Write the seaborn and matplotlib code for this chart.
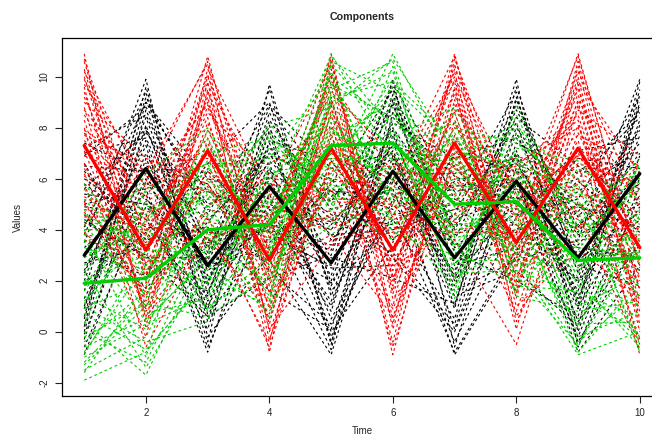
import matplotlib
matplotlib.use("Agg")
import matplotlib.pyplot as plt
import pandas as pd
import seaborn as sns

time = list(range(1, 11))

black_lines = [
    [0.2, 9.6, 1.5, 7.8, -0.5, 9.1, 4.0, 8.2, 1.1, 9.8],
    [5.8, 4.1, 3.9, 3.5, 5.6, 4.8, -0.8, 3.2, 4.7, 7.9],
    [2.4, 7.3, -0.4, 9.7, 1.9, 6.0, 2.2, 9.9, -0.6, 5.4],
    [6.9, 8.8, 5.5, 4.6, 0.8, 8.4, 6.1, 5.0, 3.3, 2.9],
    [-0.9, 5.2, 2.8, 6.7, 4.4, 3.1, 0.3, 7.4, 6.2, 8.6],
    [4.3, 3.0, 0.6, 2.1, 3.0, 9.8, 5.2, 4.2, 2.0, 4.4],
    [1.6, 9.2, 4.6, 8.9, 6.4, 7.0, 1.4, 2.4, 0.2, 9.3],
    [7.4, 6.2, 1.0, 5.4, -0.2, 5.2, 3.6, 8.7, 4.1, 6.8],
    [3.1, 2.2, 6.3, 3.9, 2.5, 2.6, 7.0, 6.3, -0.4, 3.6],
    [0.9, 7.9, 3.3, 7.2, 5.1, 8.9, 2.7, 3.9, 5.5, 7.1],
    [5.0, 5.6, -0.6, 4.8, 1.2, 6.6, 0.9, 9.6, 2.6, 1.8],
    [2.0, 8.4, 2.0, 6.1, 3.8, 4.0, 4.8, 5.6, 1.6, 8.3],
    [6.3, 3.6, 4.1, 1.6, 0.1, 7.7, 2.1, 7.0, 3.8, 5.0],
    [-0.3, 6.8, 1.8, 8.3, 4.8, 5.6, -0.4, 4.5, 6.8, 6.4],
    [3.8, 9.0, 5.0, 5.9, 2.2, 9.3, 3.1, 2.0, 0.6, 9.0],
    [4.9, 4.6, 0.1, 7.5, 6.7, 3.6, 5.9, 6.6, 3.0, 3.2],
    [1.3, 6.0, 3.6, 2.8, -0.9, 6.9, 1.8, 8.0, 4.5, 7.4],
    [7.0, 7.6, 2.4, 4.2, 3.4, 8.0, 4.4, 5.3, -0.2, 5.7],
    [2.7, 3.3, 6.6, 9.0, 1.6, 4.4, 0.5, 9.2, 2.3, 8.9],
    [0.5, 8.1, 1.2, 5.0, 4.0, 7.3, 6.5, 3.5, 5.0, 2.4],
    [5.4, 5.0, 3.0, 6.4, 0.5, 5.0, 2.4, 6.9, 1.4, 6.0],
    [3.5, 9.9, -0.2, 3.0, 5.8, 9.5, 3.8, 4.8, 7.1, 7.6],
    [4.6, 1.7, 4.3, 7.0, 2.9, 2.1, 1.1, 7.8, 2.8, 4.7],
    [1.0, 7.0, 2.2, 4.4, -0.7, 8.6, 5.5, 5.9, 0.9, 9.5],
    [6.0, 4.4, 0.9, 8.6, 3.6, 6.3, -0.9, 3.0, 4.2, 5.8],
    [0.0, 8.7, 3.1, 9.5, 1.4, 7.5, 0.1, 6.4, 1.9, 8.1],
    [6.6, 2.6, 1.6, 5.6, 4.3, 9.6, 3.3, 4.0, 5.9, 3.9],
    [2.9, 6.5, 5.8, 2.4, 0.3, 4.6, 5.0, 9.4, 0.0, 6.9],
    [4.1, 9.4, 0.4, 7.9, 5.3, 6.8, 1.6, 2.8, 3.6, 9.9],
    [-0.6, 4.9, 2.6, 3.3, 2.0, 8.2, 6.8, 7.6, 4.9, 4.1],
    [5.6, 7.8, 4.9, 6.9, 6.0, 2.9, 0.0, 5.8, 1.3, 7.7],
    [1.9, 3.9, 1.4, 8.1, -0.4, 5.9, 4.1, 8.4, 6.5, 5.1],
    [7.2, 8.5, 3.5, 4.0, 3.2, 9.0, 2.6, 3.3, 2.1, 8.8],
    [3.3, 5.4, -0.8, 6.3, 4.6, 4.2, 5.7, 6.0, -0.8, 2.6],
    [0.6, 9.0, 6.0, 5.2, 1.0, 7.9, 1.0, 9.1, 3.4, 6.3],
    [4.4, 2.9, 2.9, 8.8, 5.5, 5.4, 3.4, 4.6, 5.2, 9.2],
    [2.3, 7.5, 0.7, 3.7, 2.6, 9.9, -0.6, 7.1, 1.0, 4.9],
    [6.5, 6.3, 4.4, 6.6, 0.0, 3.4, 4.6, 8.9, 3.9, 7.0],
    [-0.1, 5.9, 2.5, 4.9, 4.2, 7.1, 2.0, 5.2, 6.0, 8.4],
    [5.1, 8.0, 1.9, 7.4, 1.8, 6.2, 6.2, 6.8, 0.4, 3.4],
]

red_lines = [
    [10.9, 0.2, 9.8, -0.8, 10.6, 2.0, 10.9, 1.3, 10.4, 0.5],
    [6.1, 4.7, 5.2, 4.9, 4.3, 6.6, 5.6, 5.1, 6.9, 4.4],
    [9.4, 2.1, 10.8, 1.8, 8.9, -0.9, 8.3, 3.4, 9.8, 6.2],
    [4.2, 6.4, 6.3, 0.5, 7.6, 4.5, 10.2, 0.4, 5.1, 1.9],
    [8.0, -0.6, 3.9, 3.6, 10.0, 1.3, 4.4, 6.3, 8.3, -0.9],
    [5.3, 3.8, 8.6, 6.1, 5.1, 5.0, 9.3, 2.6, 3.6, 3.8],
    [10.2, 5.6, 7.2, 2.5, 3.8, 0.6, 6.8, 4.8, 10.8, 2.6],
    [7.1, 1.2, 4.8, 4.3, 9.4, 6.9, 3.6, -0.5, 7.2, 5.3],
    [3.6, 2.9, 9.2, -0.3, 6.5, 3.2, 8.7, 5.6, 4.4, 0.9],
    [9.0, 6.8, 5.8, 2.0, 8.5, 1.8, 10.5, 2.0, 9.1, 4.9],
    [6.6, 0.9, 10.3, 5.4, 4.7, 4.4, 5.1, 6.9, 6.0, 2.2],
    [4.8, 4.2, 3.4, 1.2, 10.9, 0.1, 7.7, 3.0, 8.7, 6.9],
    [10.6, 2.6, 7.9, 3.2, 6.0, 5.6, 9.8, 1.0, 3.2, 1.4],
    [8.5, 5.1, 6.6, 6.6, 8.0, 2.6, 4.0, 4.2, 9.5, 3.1],
    [5.8, -0.2, 9.5, 0.1, 3.4, 3.9, 8.0, 6.2, 5.6, 4.0],
    [7.8, 3.4, 4.3, 3.9, 9.8, 6.2, 6.2, 2.5, 10.0, 0.0],
    [3.9, 1.7, 8.2, 2.2, 5.6, 1.0, 10.7, 4.4, 6.6, 5.8],
    [9.7, 6.1, 5.5, 5.0, 7.0, 4.9, 5.4, 0.8, 7.8, 2.8],
    [6.4, 3.1, 10.1, 1.5, 9.0, 2.4, 8.9, 5.3, 4.0, 6.6],
    [8.8, 0.6, 3.6, 4.6, 4.0, 5.3, 6.5, 3.8, 9.0, 1.2],
    [4.5, 4.5, 7.6, 0.9, 8.2, -0.4, 9.1, 2.2, 6.3, 4.6],
    [10.0, 2.3, 6.0, 5.8, 5.5, 4.0, 4.8, 6.6, 8.0, 3.5],
    [7.5, 5.3, 9.0, 2.9, 10.3, 1.5, 7.2, 1.6, 10.6, 1.6],
    [5.1, 1.5, 4.5, -0.6, 6.8, 6.0, 10.0, 4.9, 5.3, 5.5],
    [9.2, 3.9, 8.8, 3.3, 4.6, 2.8, 6.0, 3.2, 7.5, -0.5],
    [10.7, 3.6, 8.4, 0.3, 9.2, 0.3, 9.5, 0.1, 8.9, 0.8],
    [6.9, 5.9, 10.6, 3.0, 7.4, 4.6, 4.3, 3.6, 10.2, 5.0],
    [8.3, 1.0, 5.0, 5.5, 10.5, 2.1, 7.5, 5.9, 4.7, -0.7],
    [4.0, 4.0, 7.0, 1.0, 5.9, 5.8, 10.8, 2.9, 7.0, 3.9],
    [9.6, 0.5, 9.4, 4.1, 4.5, 0.9, 6.4, 4.5, 9.3, 2.0],
    [5.6, 2.7, 4.1, -0.4, 8.7, 3.5, 8.6, 1.8, 5.9, 6.0],
    [7.7, 6.6, 6.8, 2.6, 6.3, 6.5, 5.7, 6.5, 8.5, 1.0],
    [10.3, 1.9, 10.0, 4.4, 9.6, 1.6, 9.6, 0.6, 4.2, 4.3],
    [3.8, 3.5, 5.7, 1.6, 3.6, 4.1, 3.9, 3.9, 10.9, 2.5],
    [8.7, 5.7, 8.9, 3.7, 10.1, 2.9, 10.3, 5.4, 6.8, 5.6],
    [6.2, 0.8, 3.7, 0.7, 7.8, -0.6, 7.0, 1.5, 9.7, 0.3],
    [9.9, 4.3, 9.7, 5.2, 5.2, 5.2, 8.2, 3.3, 5.0, 3.6],
    [5.0, 2.0, 7.4, 2.3, 9.1, 2.2, 4.6, 6.0, 7.7, 6.5],
    [7.9, 6.3, 10.5, 0.0, 6.7, 3.7, 9.9, 2.7, 8.1, 1.7],
    [4.7, 1.4, 6.4, 4.0, 10.7, 0.5, 6.6, 4.6, 6.5, -0.3],
]

green_lines = [
    [-1.9, -0.8, 2.2, 1.0, 9.5, 10.6, 3.4, 6.0, 1.2, 0.1],
    [3.5, 4.6, 6.3, 7.5, 5.4, 4.6, 7.8, 3.0, -0.6, 4.6],
    [0.4, -1.7, 3.4, 5.6, 10.8, 8.0, 2.0, 7.8, 4.6, 1.8],
    [5.2, 2.5, 1.0, 2.4, 6.0, 10.9, 6.4, 4.2, 2.3, 6.1],
    [-1.2, 1.3, 7.2, 4.8, 4.4, 6.0, 8.6, 1.9, 5.8, -0.8],
    [2.6, 5.5, 4.5, 0.5, 8.6, 5.3, 3.8, 5.6, 0.5, 3.7],
    [1.0, -0.4, 0.4, 6.6, 7.3, 9.2, 1.6, 8.5, 3.5, 2.4],
    [4.4, 3.6, 5.6, 3.2, 10.2, 4.2, 5.8, 3.6, 6.4, 5.2],
    [-0.6, 0.5, 2.8, 7.8, 5.0, 8.6, 4.4, 6.8, -0.2, 0.8],
    [2.2, 6.2, 8.0, 2.0, 7.8, 7.0, 6.9, 2.6, 2.9, 3.1],
    [0.0, -1.2, 3.8, 4.0, 9.0, 10.2, 2.6, 6.3, 1.8, -0.3],
    [5.8, 2.9, 1.6, 5.2, 3.8, 5.6, 5.2, 4.8, 4.2, 6.8],
    [-1.6, 1.8, 6.0, 3.6, 6.6, 9.6, 7.3, 1.4, 0.8, 1.2],
    [3.0, 4.0, 2.4, 6.0, 8.2, 3.9, 3.0, 7.2, 6.7, 4.2],
    [1.4, 0.1, 5.0, 1.4, 10.5, 7.6, 8.8, 5.0, -0.8, 2.0],
    [-0.9, 3.2, 3.1, 7.0, 5.6, 6.5, 1.3, 8.9, 3.8, 5.6],
    [4.0, -1.0, 7.6, 2.8, 7.0, 8.8, 4.9, 3.3, 2.0, -0.6],
    [1.8, 5.1, 0.8, 4.4, 9.8, 4.9, 6.0, 6.0, 5.0, 3.3],
    [-1.3, 1.0, 4.2, 8.2, 4.7, 10.4, 2.3, 2.4, 1.5, 0.6],
    [3.3, 2.4, 5.4, 2.6, 8.9, 5.9, 7.6, 7.6, 3.2, 6.5],
    [0.7, -0.7, 2.0, 5.4, 6.2, 7.9, 4.0, 4.6, -0.4, 1.5],
    [2.9, 4.3, 6.7, 3.8, 10.9, 6.7, 5.5, 1.6, 4.4, 2.7],
    [-0.4, 1.6, 3.7, 1.8, 7.6, 9.0, 6.6, 5.4, 2.6, 4.0],
    [4.8, 0.7, 1.3, 6.4, 5.2, 7.3, 3.4, 3.8, 0.3, 0.4],
    [1.2, 3.8, 5.9, 4.6, 8.4, 5.1, 7.0, 6.6, 5.4, 5.0],
    [-1.0, 0.3, 1.4, 3.4, 7.9, 6.3, 5.3, 7.0, 2.1, 1.0],
    [3.8, 5.8, 4.9, 7.2, 6.4, 9.9, 3.7, 4.0, 4.9, 6.3],
    [0.9, 2.0, 7.9, 5.0, 9.3, 7.2, 8.2, 2.2, -0.5, 3.4],
    [2.4, -1.4, 2.6, 0.8, 5.8, 4.4, 1.8, 5.8, 3.0, -0.2],
    [4.6, 3.4, 6.4, 6.8, 10.0, 8.2, 6.2, 8.0, 6.0, 4.4],
    [-0.2, 1.1, 0.6, 2.2, 4.2, 5.7, 4.6, 3.1, 1.0, 2.2],
    [1.6, 4.9, 5.2, 8.0, 8.8, 10.7, 7.1, 6.4, 3.6, 5.9],
    [5.6, 2.1, 3.3, 4.2, 7.0, 6.2, 2.8, 2.8, -0.9, 0.0],
    [-1.5, -0.2, 4.6, 3.0, 9.7, 8.4, 5.8, 5.2, 2.5, 3.9],
    [2.0, 3.0, 1.9, 5.8, 5.0, 3.6, 8.0, 7.4, 5.6, 2.9],
    [0.3, 5.6, 6.6, 1.2, 10.6, 9.4, 3.2, 1.8, 1.6, 6.6],
    [3.6, 0.4, 3.0, 6.2, 6.8, 6.8, 6.7, 8.2, 4.0, 1.4],
    [-0.8, 2.6, 5.5, 4.4, 8.0, 5.5, 4.2, 4.4, 0.2, 4.8],
    [4.2, 1.4, 0.9, 2.9, 9.2, 9.8, 7.5, 6.8, 5.2, -0.5],
    [1.1, 4.4, 7.0, 7.6, 5.9, 7.7, 2.1, 3.5, 3.3, 3.0],
]

black_mean = [3.0, 6.4, 2.6, 5.7, 2.7, 6.3, 2.9, 5.9, 2.9, 6.2]
red_mean = [7.3, 3.2, 7.1, 2.8, 7.2, 3.2, 7.4, 3.5, 7.2, 3.3]
green_mean = [1.9, 2.1, 4.0, 4.2, 7.3, 7.4, 5.0, 5.1, 2.8, 2.9]

x_ticks = [2, 4, 6, 8, 10]
y_ticks = [-2, 0, 2, 4, 6, 8, 10]


def to_long(lines, group):
    rows = []
    for i, vals in enumerate(lines):
        for t, v in zip(time, vals):
            rows.append({"id": f"{group}{i}", "time": t, "value": v})
    return pd.DataFrame(rows)


sns.set_theme(style="ticks")
plt.rcParams["font.family"] = ["Liberation Sans", "DejaVu Sans"]

W, H = 652, 437
fig = plt.figure(figsize=(W / 100, H / 100), dpi=100)
ax = fig.add_axes([62 / W, 41 / H, 600 / W, 358 / H])

BLACK, RED, GREEN = "#000000", "#FF0000", "#00CD00"

for lines, grp, col in [(black_lines, "b", BLACK), (red_lines, "r", RED), (green_lines, "g", GREEN)]:
    sns.lineplot(data=to_long(lines, grp), x="time", y="value", units="id",
                 estimator=None, color=col, linestyle=(0, (2.5, 2.5)),
                 linewidth=0.8, ax=ax, legend=False)

for mean, col in [(black_mean, BLACK), (red_mean, RED), (green_mean, GREEN)]:
    sns.lineplot(x=time, y=mean, color=col, linewidth=2.4, ax=ax, legend=False)

ax.set_xlim(0.64, 10.36)
ax.set_ylim(-2.52, 11.52)
ax.set_xticks(x_ticks)
ax.set_xticklabels([str(v) for v in x_ticks])
ax.set_yticks(y_ticks)
ax.set_yticklabels([str(v) for v in y_ticks], rotation=90, va="center")
ax.tick_params(direction="out", length=5, width=0.8, labelsize=7,
               colors="#222222", pad=4)
for s in ax.spines.values():
    s.set_visible(True)
    s.set_linewidth(0.9)
    s.set_color("#000000")
ax.set_xlabel("")
ax.set_ylabel("")

fig.text(362 / W, 1 - 17 / H, "Components", ha="center", va="center",
         fontsize=7.7, fontweight="bold")
fig.text(362 / W, 1 - 431 / H, "Time", ha="center", va="center", fontsize=7)
fig.text(18 / W, 1 - 217 / H, "Values", ha="center", va="center",
         fontsize=7, rotation=90)

fig.savefig("out.png", dpi=100)
